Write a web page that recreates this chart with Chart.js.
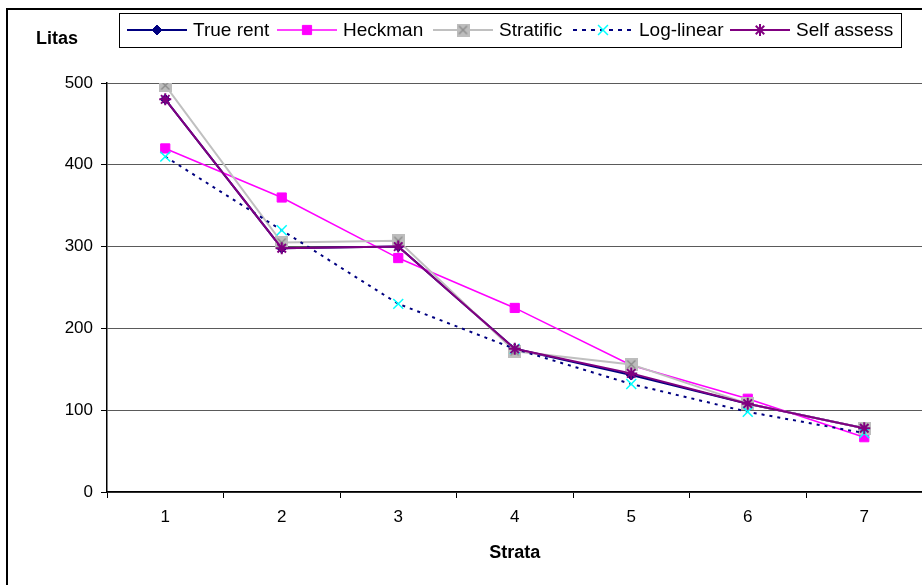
<!DOCTYPE html>
<html>
<head>
<meta charset="utf-8">
<script src="https://cdn.jsdelivr.net/npm/chart.js@4.4.1/dist/chart.umd.min.js"></script>
<style>
  html, body { margin: 0; padding: 0; background: #fff; overflow: hidden; }
  #wrap { width: 922px; height: 585px; position: relative; overflow: hidden; }
  #rentChart { display: block; }
</style>
</head>
<body>
<div id="wrap"><canvas id="rentChart" width="931" height="585"></canvas></div>
<script>
// data
const strata = ['1', '2', '3', '4', '5', '6', '7'];
const trueRent = [480, 298, 300, 175, 143, 108, 78];
const heckman = [420, 360, 286, 225, 155, 114, 67];
const stratific = [497, 305, 307, 172, 156, 108, 78];
const logLinear = [410, 320, 230, 175, 132, 98, 72];
const selfAssess = [480, 298, 300, 175, 145, 108, 78];
const yTicks = [0, 100, 200, 300, 400, 500];

// legend item start x (line start), Excel-like layout
const legendStarts = [127, 277, 433, 573, 730];

// grey square with a cross for the "Stratific" marker
function makeStratificMarker() {
    const c = document.createElement('canvas');
    c.width = 13;
    c.height = 13;
    const g = c.getContext('2d');
    g.fillStyle = '#BDBDBD';
    g.fillRect(0, 0, 13, 13);
    g.strokeStyle = '#8A8A8A';
    g.lineWidth = 1.3;
    g.beginPath();
    g.moveTo(2.5, 2.5); g.lineTo(10.5, 10.5);
    g.moveTo(10.5, 2.5); g.lineTo(2.5, 10.5);
    g.stroke();
    return c;
}
const stratificMarker = makeStratificMarker();

Chart.defaults.font.family = '"Liberation Sans", Arial, sans-serif';
Chart.defaults.font.size = 17;
Chart.defaults.color = '#000';

// frame, "Litas" label and Excel-like legend box
const decorations = {
    id: 'decorations',
    beforeDraw(chart) {
        const ctx = chart.ctx;
        ctx.save();
        ctx.fillStyle = '#fff';
        ctx.fillRect(0, 0, chart.width, chart.height);
        ctx.strokeStyle = '#000';
        ctx.lineWidth = 2;
        ctx.beginPath();
        ctx.moveTo(7, chart.height);
        ctx.lineTo(7, 9);
        ctx.lineTo(chart.width, 9);
        ctx.stroke();
        ctx.restore();
    },
    afterDraw(chart) {
        const ctx = chart.ctx;
        ctx.save();
        ctx.font = 'bold 18px "Liberation Sans", Arial, sans-serif';
        ctx.fillStyle = '#000';
        ctx.textBaseline = 'middle';
        ctx.fillText('Litas', 36, 39);

        // legend
        ctx.font = '19px "Liberation Sans", Arial, sans-serif';
        const lineLen = 60, gapText = 6, cy = 30;
        ctx.strokeStyle = '#000';
        ctx.lineWidth = 1;
        ctx.strokeRect(119.5, 13.5, 782, 34);
        chart.data.datasets.forEach((ds, i) => {
            const x = legendStarts[i];
            ctx.save();
            ctx.strokeStyle = ds.borderColor;
            ctx.lineWidth = ds.borderWidth;
            ctx.setLineDash(ds.borderDash ? [4, 5] : []);
            ctx.beginPath();
            ctx.moveTo(x, cy);
            ctx.lineTo(x + lineLen, cy);
            ctx.stroke();
            ctx.setLineDash([]);
            ctx.fillStyle = ds.pointBackgroundColor;
            ctx.strokeStyle = ds.pointBorderColor;
            ctx.lineWidth = ds.pointBorderWidth;
            Chart.helpers.drawPoint(ctx, {
                pointStyle: ds.pointStyle,
                radius: ds.pointRadius,
                borderWidth: ds.pointBorderWidth,
                rotation: 0
            }, x + lineLen / 2, cy);
            ctx.restore();
            ctx.fillStyle = '#000';
            ctx.fillText(ds.label, x + lineLen + gapText, cy + 1);
        });
        ctx.restore();
    }
};

new Chart(document.getElementById('rentChart').getContext('2d'), {
    type: 'line',
    data: {
        labels: strata,
        datasets: [{
            label: 'True rent',
            data: trueRent,
            borderColor: '#000080',
            borderWidth: 2,
            pointStyle: 'rectRot',
            pointRadius: 5,
            pointBackgroundColor: '#000080',
            pointBorderColor: '#000080',
            pointBorderWidth: 1,
            order: 4,
        }, {
            label: 'Heckman',
            data: heckman,
            borderColor: '#FF00FF',
            borderWidth: 1.5,
            pointStyle: 'rect',
            pointRadius: 6.5,
            pointBackgroundColor: '#FF00FF',
            pointBorderColor: '#FF00FF',
            pointBorderWidth: 1,
            order: 3,
        }, {
            label: 'Stratific',
            data: stratific,
            borderColor: '#C0C0C0',
            borderWidth: 2,
            pointStyle: stratificMarker,
            pointRadius: 6.5,
            pointBackgroundColor: '#C0C0C0',
            pointBorderColor: '#C0C0C0',
            pointBorderWidth: 1,
            order: 2,
        }, {
            label: 'Log-linear',
            data: logLinear,
            borderColor: '#000080',
            borderWidth: 2,
            borderDash: [3, 5],
            pointStyle: 'crossRot',
            pointRadius: 7,
            pointBackgroundColor: '#00FFFF',
            pointBorderColor: '#00FFFF',
            pointBorderWidth: 1.5,
            order: 1,
        }, {
            label: 'Self assess',
            data: selfAssess,
            borderColor: '#800080',
            borderWidth: 2,
            pointStyle: 'star',
            pointRadius: 6,
            pointBackgroundColor: '#800080',
            pointBorderColor: '#800080',
            pointBorderWidth: 2,
            order: 0,
        }],
    },
    options: {
        responsive: false,
        animation: false,
        events: [],
        tension: 0,
        layout: { padding: { top: 83, left: 0, right: 0, bottom: 0 } },
        plugins: {
            legend: { display: false },
            tooltip: { enabled: false },
        },
        scales: {
            x: {
                offset: true,
                grid: {
                    offset: true,
                    drawOnChartArea: false,
                    tickLength: 6,
                    tickColor: '#000',
                },
                border: { color: '#000', width: 1.5 },
                ticks: { padding: 9, font: { size: 17 } },
                title: {
                    display: true,
                    text: 'Strata',
                    font: { size: 18, weight: 'bold' },
                    padding: { top: 0, bottom: 21 },
                },
                afterFit(scale) {
                    scale.height = 93;
                    scale.paddingLeft = 0;
                    scale.paddingRight = 0;
                },
            },
            y: {
                min: 0,
                max: 500,
                afterBuildTicks(scale) {
                    scale.ticks = yTicks.map(v => ({ value: v }));
                },
                grid: {
                    color: '#5a5a5a',
                    lineWidth: 1,
                    tickLength: 6,
                    tickColor: '#000',
                },
                border: { color: '#000', width: 1.5 },
                ticks: { padding: 8, font: { size: 17 } },
                afterFit(scale) {
                    scale.width = 107;
                    scale.paddingTop = 0;
                    scale.paddingBottom = 0;
                },
            },
        },
    },
    plugins: [decorations],
});
</script>
</body>
</html>
